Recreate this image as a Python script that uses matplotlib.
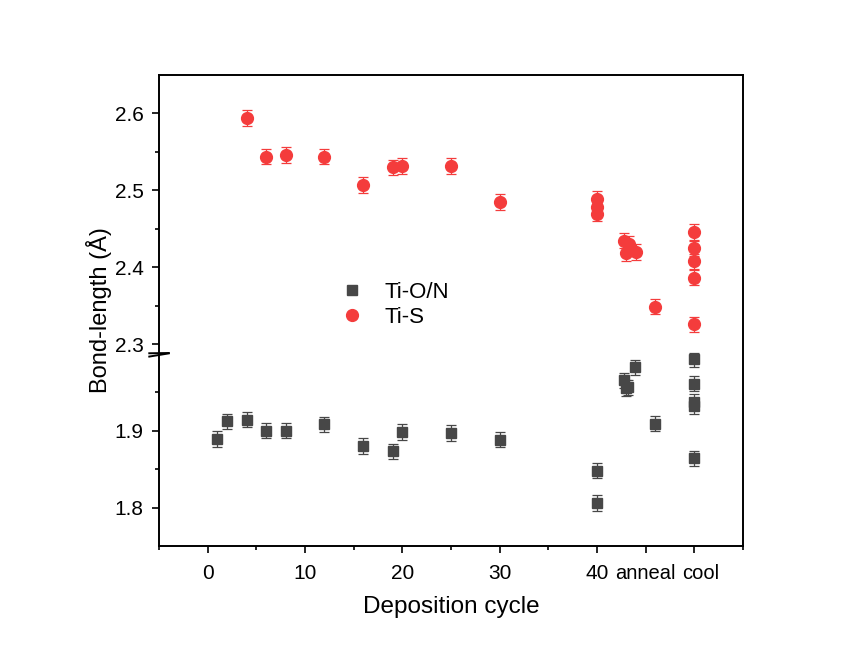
import numpy as np
import matplotlib
matplotlib.use('Agg')
import matplotlib.pyplot as plt
from matplotlib.ticker import FixedLocator
from matplotlib.lines import Line2D
from matplotlib.transforms import ScaledTranslation

plt.rcParams['font.family'] = ['Liberation Sans', 'DejaVu Sans']

# Ti-O/N (lower segment of the broken axis)
ton_x = [1, 2, 4, 6, 8, 12, 16, 19, 20, 25, 30, 40, 40,
         42.8, 43.0, 43.2, 43.9, 46.0, 50, 50, 50, 50, 50]
ton_y = [1.889, 1.912, 1.914, 1.900, 1.900, 1.908, 1.880, 1.873, 1.898, 1.897, 1.888, 1.848, 1.806,
         1.965, 1.955, 1.956, 1.982, 1.909, 1.993, 1.961, 1.937, 1.932, 1.864]
ton_err = [0.01] * len(ton_x)

# Ti-S (upper segment)
tis_x = [4, 6, 8, 12, 16, 19, 20, 25, 30, 40, 40, 40,
         42.8, 43.3, 43.0, 44.0, 46.0, 50, 50, 50, 50, 50]
tis_y = [2.594, 2.544, 2.546, 2.544, 2.507, 2.530, 2.532, 2.532, 2.485, 2.489, 2.478, 2.470,
         2.435, 2.431, 2.419, 2.420, 2.349, 2.446, 2.425, 2.408, 2.387, 2.326]
tis_err = [0.01] * len(tis_x)

x_ticks = [0, 10, 20, 30, 40, 45, 50]
x_labels = ['0', '10', '20', '30', '40', 'anneal', 'cool']

# broken y scale: 1.75-2.0 and 2.3-2.65, small gap between
lo_top, hi_bot, gap = 2.0, 2.3, 0.0117


def fwd(v):
    v = np.asarray(v, dtype=float)
    mid = lo_top + (v - lo_top) * gap / (hi_bot - lo_top)
    return np.where(v <= lo_top, v, np.where(v < hi_bot, mid, v - (hi_bot - lo_top) + gap))


def inv(y):
    y = np.asarray(y, dtype=float)
    mid = lo_top + (y - lo_top) * (hi_bot - lo_top) / gap
    return np.where(y <= lo_top, y, np.where(y < lo_top + gap, mid, y + (hi_bot - lo_top) - gap))


fig = plt.figure(figsize=(8.49, 6.47), dpi=100)
ax = fig.add_axes([0.1873, 0.1561, 0.6879, 0.728])
ax.set_yscale('function', functions=(fwd, inv))

grey = '#474747'
red = '#f43c3c'
ax.errorbar(ton_x, ton_y, yerr=ton_err, fmt='s', ms=7.5, color=grey, ecolor=grey,
            elinewidth=0.9, capsize=3.8, capthick=0.9, zorder=3)
ax.errorbar(tis_x, tis_y, yerr=tis_err, fmt='o', ms=8.5, color=red, ecolor=red,
            elinewidth=0.9, capsize=3.8, capthick=0.9, zorder=3)

ax.set_xlim(-5, 55)
ax.set_ylim(1.75, 2.65)

ax.xaxis.set_major_locator(FixedLocator(x_ticks))
ax.set_xticklabels(x_labels)
ax.xaxis.set_minor_locator(FixedLocator([-5, 5, 15, 25, 35, 55]))
ax.yaxis.set_major_locator(FixedLocator([1.8, 1.9, 2.3, 2.4, 2.5, 2.6]))
ax.yaxis.set_minor_locator(FixedLocator([1.85, 1.95, 2.35, 2.45, 2.55]))
ax.yaxis.set_major_formatter(plt.FuncFormatter(lambda v, p: f'{v:.1f}'))

ax.tick_params(which='major', direction='out', length=5, width=1.2, labelsize=15, pad=6)
ax.tick_params(axis='x', which='major', pad=8)
ax.tick_params(which='minor', direction='out', length=3, width=1.2)
xl = ax.get_xticklabels()
for lbl in xl[5:]:
    lbl.set_fontsize(14.5)
xl[6].set_transform(xl[6].get_transform() + ScaledTranslation(6 / 100, 0, fig.dpi_scale_trans))
for s in ax.spines.values():
    s.set_linewidth(1.4)

# break marks on the left spine
for yb in (float(fwd(hi_bot)), float(fwd(lo_top))):
    ax.plot([-6.0, -4.0], [yb - 0.004, yb + 0.004], color='black', lw=1.4,
            clip_on=False, zorder=5)

ax.set_xlabel('Deposition cycle', fontsize=17.5, labelpad=9)
ax.set_ylabel('Bond-length (Å)', fontsize=17, labelpad=2)

handles = [Line2D([], [], ls='none', marker='s', ms=7.5, color=grey),
           Line2D([], [], ls='none', marker='o', ms=8.5, color=red)]
ax.legend(handles, ['Ti-O/N', 'Ti-S'], loc='center left', bbox_to_anchor=(0.314, 0.512),
          frameon=False, fontsize=16, handlelength=0.9, handletextpad=1.0, labelspacing=0.2,
          borderpad=0, borderaxespad=0)

fig.savefig('out.png', dpi=100)
